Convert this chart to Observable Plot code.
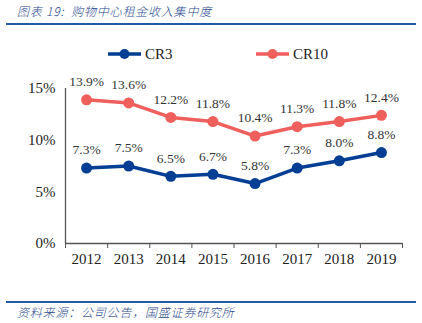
<!DOCTYPE html>
<html><head><meta charset="utf-8">
<script src="https://cdn.jsdelivr.net/npm/d3@7"></script>
<script src="https://cdn.jsdelivr.net/npm/@observablehq/plot@0.6"></script>
<style>
body{margin:0;background:#fff;}
#wrap{position:relative;width:422px;height:323px;overflow:hidden;}
.cjk{font-family:"Noto Sans CJK SC",sans-serif;font-style:italic;font-weight:300;color:#2B4A8E;font-size:12px;letter-spacing:0.8px;position:absolute;left:17px;white-space:nowrap;}
.rule{position:absolute;left:6px;width:410px;height:2px;background:#1F5BA8;}
#legend{position:absolute;top:44px;left:0;width:422px;height:20px;font-family:"Liberation Serif",serif;font-size:15px;color:#222;}
.li{position:absolute;top:0;display:flex;align-items:center;height:20px;}
.li svg{margin-right:4px;}
#chart{position:absolute;top:62px;left:0;}
</style></head>
<body><div id="wrap">
<div class="cjk" style="top:2px;">图表 19:&nbsp; 购物中心租金收入集中度</div>
<div class="rule" style="top:23px;"></div>
<div id="legend"></div>
<div id="chart"></div>
<div class="rule" style="top:301px;height:1.5px;"></div>
<div class="cjk" style="top:303px;">资料来源：公司公告，国盛证券研究所</div>
</div>
<script>
const years = [2012, 2013, 2014, 2015, 2016, 2017, 2018, 2019];
const cr3 = [7.3, 7.5, 6.5, 6.7, 5.8, 7.3, 8.0, 8.8];
const cr10 = [13.9, 13.6, 12.2, 11.8, 10.4, 11.3, 11.8, 12.4];
const seriesNames = ["CR3", "CR10"];
const colors = ["#023E94", "#EF5F5C"];
const yTicks = [0, 5, 10, 15];

const data = [];
years.forEach((y, i) => {
  data.push({year: y, value: cr3[i], s: "CR3"});
  data.push({year: y, value: cr10[i], s: "CR10"});
});
const bounds = [years[0] - 0.5, ...years.map(y => y + 0.5)];

// legend
const leg = document.getElementById("legend");
const legX = [108, 256];
seriesNames.forEach((n, i) => {
  const d = document.createElement("div");
  d.className = "li";
  d.style.left = legX[i] + "px";
  d.innerHTML = `<svg width="33" height="12"><line x1="0" y1="6" x2="33" y2="6" stroke="${colors[i]}" stroke-width="3.5"/><circle cx="16.5" cy="6" r="5" fill="${colors[i]}"/></svg><span>${n}</span>`;
  leg.appendChild(d);
});

const plot = Plot.plot({
  width: 422,
  height: 230,
  marginLeft: 65,
  marginRight: 20,
  marginTop: 26,
  marginBottom: 49,
  style: {fontFamily: "Liberation Serif, serif", fontSize: "14px", color: "#222", background: "transparent"},
  x: {domain: [bounds[0], bounds[bounds.length - 1]], label: null},
  y: {domain: [0, 15], label: null},
  color: {domain: seriesNames, range: colors},
  marks: [
    Plot.axisY({ticks: yTicks, tickSize: 0, tickPadding: 10, tickFormat: d => d + "%", fontSize: 15, label: null}),
    Plot.axisX({ticks: bounds, tickSize: 5, tickFormat: () => "", stroke: "#555", label: null}),
    Plot.axisX({ticks: years, tickSize: 0, tickPadding: 10, tickFormat: d => String(d), fontSize: 15, label: null}),
    Plot.ruleX([bounds[0]], {y1: 0, y2: 15, stroke: "#555", strokeWidth: 1.3}),
    Plot.ruleY([0], {stroke: "#555", strokeWidth: 1.3}),
    Plot.line(data, {x: "year", y: "value", z: "s", stroke: "s", strokeWidth: 3.5}),
    Plot.dot(data, {x: "year", y: "value", fill: "s", r: 5.5}),
    Plot.text(data, {x: "year", y: "value", text: d => d.value.toFixed(1) + "%", dy: -18, fill: "#333", fontSize: 13.5})
  ]
});
document.getElementById("chart").appendChild(plot);
</script>
</body></html>
